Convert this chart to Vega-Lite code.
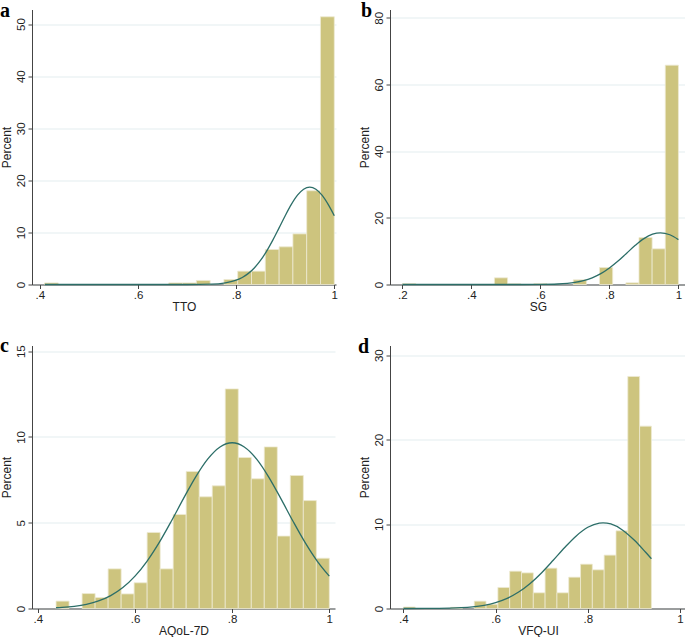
{
  "$schema": "https://vega.github.io/schema/vega-lite/v6.json",
  "padding": {"left": 0, "top": 0.5, "right": 0, "bottom": 0},
  "background": "white",
  "bounds": "flush",
  "columns": 2,
  "spacing": {"row": 61, "column": 54},
  "config": {
    "view": {"stroke": null},
    "axis": {
      "labelFont": "Liberation Sans Narrow, Liberation Sans, Arial",
      "titleFont": "Liberation Sans Narrow, Liberation Sans, Arial",
      "labelFontSize": 11.5,
      "titleFontSize": 12,
      "titleFontWeight": "normal",
      "labelColor": "#222",
      "titleColor": "#222",
      "domainColor": "#444",
      "tickColor": "#444",
      "tickSize": 4,
      "gridColor": "#E3EDEF",
      "labelFlush": false,
      "labelOverlap": false
    },
    "axisX": {"grid": false, "labelPadding": 1, "titlePadding": 0},
    "axisY": {"grid": true, "labelAngle": 270, "labelPadding": 2, "titlePadding": 2},
    "title": {
      "font": "Liberation Serif",
      "fontWeight": "bold",
      "fontSize": 20,
      "anchor": "start",
      "frame": "group",
      "offset": 0,
      "baseline": "alphabetic",
      "color": "black"
    },
    "bar": {"color": "#CDC47E", "stroke": "#EEEAD2", "strokeWidth": 0.8},
    "line": {"color": "#2C6E68", "strokeWidth": 1.3, "interpolate": "monotone"}
  },
  "datasets": {
    "bars": [
      {"p": "a", "x0": 0.4095, "x1": 0.4376, "pct": 0.3},
      {"p": "a", "x0": 0.6626, "x1": 0.6907, "pct": 0.3},
      {"p": "a", "x0": 0.6907, "x1": 0.7189, "pct": 0.3},
      {"p": "a", "x0": 0.7189, "x1": 0.747, "pct": 0.77},
      {"p": "a", "x0": 0.7751, "x1": 0.8032, "pct": 0.96},
      {"p": "a", "x0": 0.8032, "x1": 0.8313, "pct": 2.56},
      {"p": "a", "x0": 0.8313, "x1": 0.8594, "pct": 2.56},
      {"p": "a", "x0": 0.8594, "x1": 0.8876, "pct": 6.72},
      {"p": "a", "x0": 0.8876, "x1": 0.9157, "pct": 7.23},
      {"p": "a", "x0": 0.9157, "x1": 0.9438, "pct": 9.72},
      {"p": "a", "x0": 0.9438, "x1": 0.9719, "pct": 18.0},
      {"p": "a", "x0": 0.9719, "x1": 1.0, "pct": 51.4},
      {"p": "b", "x0": 0.2, "x1": 0.2381, "pct": 0.3},
      {"p": "b", "x0": 0.4667, "x1": 0.5048, "pct": 2.0},
      {"p": "b", "x0": 0.5048, "x1": 0.5429, "pct": 0.2},
      {"p": "b", "x0": 0.581, "x1": 0.619, "pct": 0.25},
      {"p": "b", "x0": 0.6952, "x1": 0.7333, "pct": 1.4},
      {"p": "b", "x0": 0.7714, "x1": 0.8095, "pct": 5.1},
      {"p": "b", "x0": 0.8476, "x1": 0.8857, "pct": 0.5},
      {"p": "b", "x0": 0.8857, "x1": 0.9238, "pct": 14.1},
      {"p": "b", "x0": 0.9238, "x1": 0.9619, "pct": 10.7},
      {"p": "b", "x0": 0.9619, "x1": 1.0, "pct": 65.8},
      {"p": "c", "x0": 0.4375, "x1": 0.4643, "pct": 0.43},
      {"p": "c", "x0": 0.4911, "x1": 0.5179, "pct": 0.87},
      {"p": "c", "x0": 0.5179, "x1": 0.5447, "pct": 0.64},
      {"p": "c", "x0": 0.5447, "x1": 0.5715, "pct": 2.31},
      {"p": "c", "x0": 0.5715, "x1": 0.5982, "pct": 0.85},
      {"p": "c", "x0": 0.5982, "x1": 0.625, "pct": 1.5},
      {"p": "c", "x0": 0.625, "x1": 0.6518, "pct": 4.43},
      {"p": "c", "x0": 0.6518, "x1": 0.6786, "pct": 2.31},
      {"p": "c", "x0": 0.6786, "x1": 0.7054, "pct": 5.48},
      {"p": "c", "x0": 0.7054, "x1": 0.7322, "pct": 7.99},
      {"p": "c", "x0": 0.7322, "x1": 0.759, "pct": 6.51},
      {"p": "c", "x0": 0.759, "x1": 0.7858, "pct": 7.15},
      {"p": "c", "x0": 0.7858, "x1": 0.8126, "pct": 12.8},
      {"p": "c", "x0": 0.8126, "x1": 0.8394, "pct": 8.8},
      {"p": "c", "x0": 0.8394, "x1": 0.8661, "pct": 7.56},
      {"p": "c", "x0": 0.8661, "x1": 0.8929, "pct": 9.42},
      {"p": "c", "x0": 0.8929, "x1": 0.9197, "pct": 4.22},
      {"p": "c", "x0": 0.9197, "x1": 0.9465, "pct": 7.75},
      {"p": "c", "x0": 0.9465, "x1": 0.9733, "pct": 6.29},
      {"p": "c", "x0": 0.9733, "x1": 1.0, "pct": 2.93},
      {"p": "d", "x0": 0.4, "x1": 0.4256, "pct": 0.18},
      {"p": "d", "x0": 0.5025, "x1": 0.5281, "pct": 0.14},
      {"p": "d", "x0": 0.5537, "x1": 0.5793, "pct": 0.87},
      {"p": "d", "x0": 0.5793, "x1": 0.605, "pct": 0.5},
      {"p": "d", "x0": 0.605, "x1": 0.6306, "pct": 2.49},
      {"p": "d", "x0": 0.6306, "x1": 0.6562, "pct": 4.42},
      {"p": "d", "x0": 0.6562, "x1": 0.6818, "pct": 4.22},
      {"p": "d", "x0": 0.6818, "x1": 0.7074, "pct": 1.86},
      {"p": "d", "x0": 0.7074, "x1": 0.7331, "pct": 4.78},
      {"p": "d", "x0": 0.7331, "x1": 0.7587, "pct": 1.86},
      {"p": "d", "x0": 0.7587, "x1": 0.7843, "pct": 3.71},
      {"p": "d", "x0": 0.7843, "x1": 0.8099, "pct": 5.25},
      {"p": "d", "x0": 0.8099, "x1": 0.8355, "pct": 4.58},
      {"p": "d", "x0": 0.8355, "x1": 0.8612, "pct": 6.32},
      {"p": "d", "x0": 0.8612, "x1": 0.8868, "pct": 9.2},
      {"p": "d", "x0": 0.8868, "x1": 0.9124, "pct": 27.48},
      {"p": "d", "x0": 0.9124, "x1": 0.938, "pct": 21.6}
    ],
    "curves": [
      {"p": "a", "x": 0.41, "y": 0},
      {"p": "a", "x": 0.7, "y": 0.003},
      {"p": "a", "x": 0.75, "y": 0.072},
      {"p": "a", "x": 0.775, "y": 0.266},
      {"p": "a", "x": 0.8, "y": 0.821},
      {"p": "a", "x": 0.8125, "y": 1.354},
      {"p": "a", "x": 0.825, "y": 2.135},
      {"p": "a", "x": 0.8375, "y": 3.22},
      {"p": "a", "x": 0.85, "y": 4.66},
      {"p": "a", "x": 0.8625, "y": 6.46},
      {"p": "a", "x": 0.875, "y": 8.56},
      {"p": "a", "x": 0.8875, "y": 10.87},
      {"p": "a", "x": 0.9, "y": 13.21},
      {"p": "a", "x": 0.9125, "y": 15.38},
      {"p": "a", "x": 0.925, "y": 17.15},
      {"p": "a", "x": 0.9375, "y": 18.3},
      {"p": "a", "x": 0.95, "y": 18.7},
      {"p": "a", "x": 0.9625, "y": 18.3},
      {"p": "a", "x": 0.975, "y": 17.15},
      {"p": "a", "x": 0.9875, "y": 15.38},
      {"p": "a", "x": 1.0, "y": 13.21},
      {"p": "b", "x": 0.2, "y": 0},
      {"p": "b", "x": 0.5, "y": 0.0004},
      {"p": "b", "x": 0.55, "y": 0.004},
      {"p": "b", "x": 0.6, "y": 0.028},
      {"p": "b", "x": 0.65, "y": 0.152},
      {"p": "b", "x": 0.7, "y": 0.63},
      {"p": "b", "x": 0.725, "y": 1.16},
      {"p": "b", "x": 0.75, "y": 2.01},
      {"p": "b", "x": 0.775, "y": 3.26},
      {"p": "b", "x": 0.8, "y": 4.96},
      {"p": "b", "x": 0.825, "y": 7.05},
      {"p": "b", "x": 0.85, "y": 9.4},
      {"p": "b", "x": 0.875, "y": 11.74},
      {"p": "b", "x": 0.9, "y": 13.75},
      {"p": "b", "x": 0.925, "y": 15.08},
      {"p": "b", "x": 0.948, "y": 15.5},
      {"p": "b", "x": 0.975, "y": 14.92},
      {"p": "b", "x": 1.0, "y": 13.46},
      {"p": "c", "x": 0.4375, "y": 0.045},
      {"p": "c", "x": 0.45, "y": 0.065},
      {"p": "c", "x": 0.475, "y": 0.129},
      {"p": "c", "x": 0.5, "y": 0.244},
      {"p": "c", "x": 0.525, "y": 0.439},
      {"p": "c", "x": 0.55, "y": 0.751},
      {"p": "c", "x": 0.575, "y": 1.22},
      {"p": "c", "x": 0.6, "y": 1.884},
      {"p": "c", "x": 0.625, "y": 2.764},
      {"p": "c", "x": 0.65, "y": 3.851},
      {"p": "c", "x": 0.675, "y": 5.1},
      {"p": "c", "x": 0.7, "y": 6.418},
      {"p": "c", "x": 0.725, "y": 7.676},
      {"p": "c", "x": 0.75, "y": 8.722},
      {"p": "c", "x": 0.775, "y": 9.417},
      {"p": "c", "x": 0.8, "y": 9.66},
      {"p": "c", "x": 0.825, "y": 9.417},
      {"p": "c", "x": 0.85, "y": 8.722},
      {"p": "c", "x": 0.875, "y": 7.676},
      {"p": "c", "x": 0.9, "y": 6.418},
      {"p": "c", "x": 0.925, "y": 5.1},
      {"p": "c", "x": 0.95, "y": 3.851},
      {"p": "c", "x": 0.975, "y": 2.764},
      {"p": "c", "x": 1.0, "y": 1.884},
      {"p": "d", "x": 0.4, "y": 0.001},
      {"p": "d", "x": 0.45, "y": 0.007},
      {"p": "d", "x": 0.5, "y": 0.043},
      {"p": "d", "x": 0.525, "y": 0.094},
      {"p": "d", "x": 0.55, "y": 0.196},
      {"p": "d", "x": 0.575, "y": 0.381},
      {"p": "d", "x": 0.6, "y": 0.698},
      {"p": "d", "x": 0.625, "y": 1.201},
      {"p": "d", "x": 0.65, "y": 1.947},
      {"p": "d", "x": 0.675, "y": 2.964},
      {"p": "d", "x": 0.7, "y": 4.244},
      {"p": "d", "x": 0.725, "y": 5.711},
      {"p": "d", "x": 0.75, "y": 7.227},
      {"p": "d", "x": 0.775, "y": 8.598},
      {"p": "d", "x": 0.8, "y": 9.619},
      {"p": "d", "x": 0.825, "y": 10.12},
      {"p": "d", "x": 0.833, "y": 10.15},
      {"p": "d", "x": 0.85, "y": 10.01},
      {"p": "d", "x": 0.875, "y": 9.305},
      {"p": "d", "x": 0.9, "y": 8.135},
      {"p": "d", "x": 0.925, "y": 6.687},
      {"p": "d", "x": 0.938, "y": 5.893}
    ]
  },
  "concat": [
    {
      "width": 304, "height": 275,
      "title": {"text": "a", "dx": -32, "dy": 15.5},
      "layer": [
        {
          "data": {"name": "bars"},
          "transform": [{"filter": "datum.p == 'a'"}],
          "mark": "bar",
          "encoding": {
            "x": {"field": "x0", "type": "quantitative", "scale": {"domain": [0.384, 1.0035], "nice": false, "zero": false},
              "axis": {"title": "TTO", "values": [0.4, 0.6, 0.8, 1], "labelExpr": "datum.value == 1 ? '1' : substring(format(datum.value, '.1f'), 1)"}},
            "x2": {"field": "x1"},
            "y": {"field": "pct", "type": "quantitative", "scale": {"domain": [0, 52.8], "nice": false},
              "axis": {"title": "Percent", "values": [0, 10, 20, 30, 40, 50]}},
            "y2": {"datum": 0}
          }
        },
        {
          "data": {"name": "curves"},
          "transform": [{"filter": "datum.p == 'a'"}],
          "mark": "line",
          "encoding": {
            "x": {"field": "x", "type": "quantitative"},
            "y": {"field": "y", "type": "quantitative"}
          }
        }
      ]
    },
    {
      "width": 296, "height": 275,
      "title": {"text": "b", "dx": -29, "dy": 15.5},
      "layer": [
        {
          "data": {"name": "bars"},
          "transform": [{"filter": "datum.p == 'b'"}],
          "mark": "bar",
          "encoding": {
            "x": {"field": "x0", "type": "quantitative", "scale": {"domain": [0.164, 1.022], "nice": false, "zero": false},
              "axis": {"title": "SG", "values": [0.2, 0.4, 0.6, 0.8, 1], "labelExpr": "datum.value == 1 ? '1' : substring(format(datum.value, '.1f'), 1)"}},
            "x2": {"field": "x1"},
            "y": {"field": "pct", "type": "quantitative", "scale": {"domain": [0, 82.5], "nice": false},
              "axis": {"title": "Percent", "values": [0, 20, 40, 60, 80]}},
            "y2": {"datum": 0}
          }
        },
        {
          "data": {"name": "curves"},
          "transform": [{"filter": "datum.p == 'b'"}],
          "mark": "line",
          "encoding": {
            "x": {"field": "x", "type": "quantitative"},
            "y": {"field": "y", "type": "quantitative"}
          }
        }
      ]
    },
    {
      "width": 303, "height": 263,
      "title": {"text": "c", "dx": -32, "dy": 15},
      "layer": [
        {
          "data": {"name": "bars"},
          "transform": [{"filter": "datum.p == 'c'"}],
          "mark": "bar",
          "encoding": {
            "x": {"field": "x0", "type": "quantitative", "scale": {"domain": [0.388, 1.0117], "nice": false, "zero": false},
              "axis": {"title": "AQoL-7D", "values": [0.4, 0.6, 0.8, 1], "labelExpr": "datum.value == 1 ? '1' : substring(format(datum.value, '.1f'), 1)"}},
            "x2": {"field": "x1"},
            "y": {"field": "pct", "type": "quantitative", "scale": {"domain": [0, 15.33], "nice": false},
              "axis": {"title": "Percent", "values": [0, 5, 10, 15]}},
            "y2": {"datum": 0}
          }
        },
        {
          "data": {"name": "curves"},
          "transform": [{"filter": "datum.p == 'c'"}],
          "mark": "line",
          "encoding": {
            "x": {"field": "x", "type": "quantitative"},
            "y": {"field": "y", "type": "quantitative"}
          }
        }
      ]
    },
    {
      "width": 296, "height": 263,
      "title": {"text": "d", "dx": -32, "dy": 15},
      "layer": [
        {
          "data": {"name": "bars"},
          "transform": [{"filter": "datum.p == 'd'"}],
          "mark": "bar",
          "encoding": {
            "x": {"field": "x0", "type": "quantitative", "scale": {"domain": [0.371, 1.013], "nice": false, "zero": false},
              "axis": {"title": "VFQ-UI", "values": [0.4, 0.6, 0.8, 1], "labelExpr": "datum.value == 1 ? '1' : substring(format(datum.value, '.1f'), 1)"}},
            "x2": {"field": "x1"},
            "y": {"field": "pct", "type": "quantitative", "scale": {"domain": [0, 31.15], "nice": false},
              "axis": {"title": "Percent", "values": [0, 10, 20, 30]}},
            "y2": {"datum": 0}
          }
        },
        {
          "data": {"name": "curves"},
          "transform": [{"filter": "datum.p == 'd'"}],
          "mark": "line",
          "encoding": {
            "x": {"field": "x", "type": "quantitative"},
            "y": {"field": "y", "type": "quantitative"}
          }
        }
      ]
    }
  ]
}
